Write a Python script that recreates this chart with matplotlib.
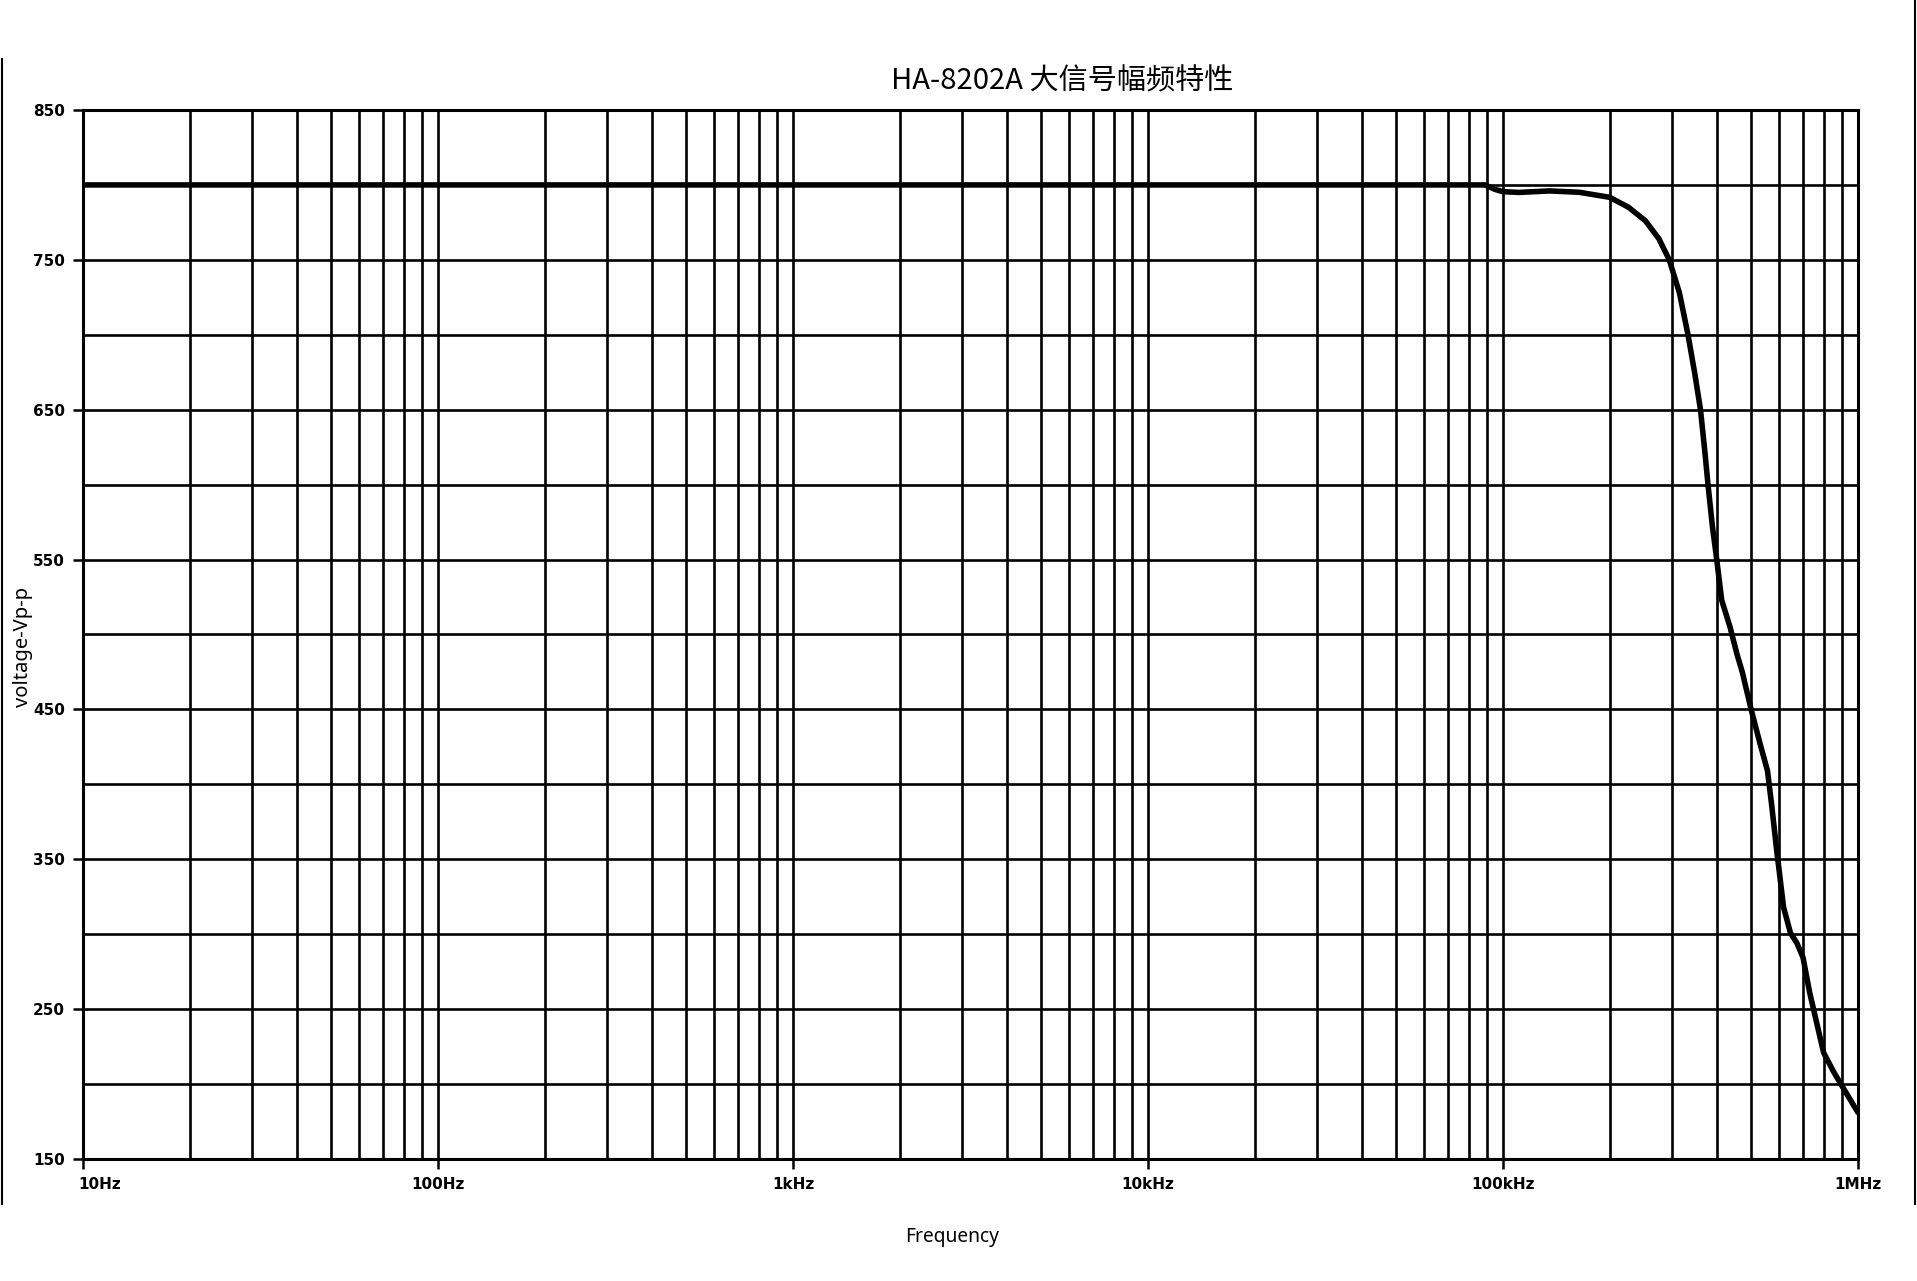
import matplotlib
matplotlib.use("Agg")
import matplotlib.pyplot as plt
from matplotlib.lines import Line2D
from matplotlib.ticker import FixedLocator, LogLocator, NullFormatter
from matplotlib.transforms import ScaledTranslation

plt.rcParams['font.family'] = ['Noto Sans CJK SC', 'DejaVu Sans']

# frequency (Hz) and output swing (Vp-p)
freq = [10, 1e2, 1e3, 1e4, 5e4, 8.9e4, 9.5e4, 1.0e5, 1.11e5, 1.35e5, 1.64e5,
        2.0e5, 2.26e5, 2.52e5, 2.75e5, 2.94e5, 3.14e5, 3.32e5, 3.47e5, 3.60e5,
        3.70e5, 3.78e5, 3.89e5, 4.0e5, 4.13e5, 4.36e5, 4.56e5, 4.72e5, 5.0e5,
        5.3e5, 5.56e5, 5.72e5, 5.9e5, 6.0e5, 6.17e5, 6.45e5, 6.73e5, 7.0e5,
        7.31e5, 7.63e5, 8.0e5, 8.5e5, 9.0e5, 1e6]
volt = [800, 800, 800, 800, 800, 800, 797, 795.5, 795, 796, 795.1,
        791.7, 785, 776, 764, 750, 728, 700, 674, 650,
        623, 600, 572, 550, 523, 505, 487, 475, 450,
        427, 409, 385, 356, 342, 318, 301, 294, 284.5,
        261, 242, 221, 209, 199, 181]

x_ticks = [10, 100, 1e3, 1e4, 1e5, 1e6]
x_labels = ['10Hz', '100Hz', '1kHz', '10kHz', '100kHz', '1MHz']
y_ticks = [150, 250, 350, 450, 550, 650, 750, 850]
y_minor = [200, 300, 400, 500, 600, 700, 800]

W, H = 1917, 1281
fig = plt.figure(figsize=(W / 100, H / 100), dpi=100)
ax = fig.add_axes([83 / W, 1 - 1159 / H, (1858 - 83) / W, (1159 - 110) / H])

ax.plot(freq, volt, color='black', lw=4, solid_joinstyle='round',
        solid_capstyle='round', zorder=3)

ax.set_xscale('log')
ax.set_xlim(10, 1e6)
ax.set_ylim(150, 850)
ax.set_xticks(x_ticks)
ax.set_xticklabels(x_labels)
ax.xaxis.set_minor_locator(LogLocator(base=10, subs=range(2, 10)))
ax.xaxis.set_minor_formatter(NullFormatter())
ax.set_yticks(y_ticks)
ax.yaxis.set_minor_locator(FixedLocator(y_minor))

ax.grid(which='both', color='black', lw=1.9)
ax.tick_params(which='major', direction='out', length=7, width=1.8,
               colors='black', labelsize=11, pad=6)
ax.tick_params(which='minor', length=0)
for lab in ax.get_xticklabels() + ax.get_yticklabels():
    lab.set_family('DejaVu Sans')
    lab.set_fontweight('bold')

# first label sits just right of the axis corner
first = ax.get_xticklabels()[0]
first.set_horizontalalignment('left')
first.set_transform(first.get_transform() + ScaledTranslation(-0.05, 0, fig.dpi_scale_trans))

for s in ax.spines.values():
    s.set_linewidth(2.2)
    s.set_color('black')

fig.text(1062 / W, 1 - 82 / H, 'HA-8202A 大信号幅频特性', ha='center', va='center',
         fontsize=21)
fig.text(952 / W, 1 - 1237 / H, 'Frequency', ha='center', va='center',
         fontsize=13.8, family=['Noto Sans', 'DejaVu Sans'])
fig.text(23 / W, 1 - 647 / H, 'voltage-Vp-p', ha='center', va='center',
         rotation=90, fontsize=14.5, family=['Noto Sans', 'DejaVu Sans'])

# thin frame edges seen at the sides of the original screenshot
fig.add_artist(Line2D([1.5 / W, 1.5 / W], [1 - 59 / H, 1 - 1204 / H],
                      color='black', lw=1.5, transform=fig.transFigure))
fig.add_artist(Line2D([1915 / W, 1915 / W], [1.0, 1 - 1204 / H],
                      color='black', lw=1.5, transform=fig.transFigure))

fig.savefig('out.png', dpi=100)
